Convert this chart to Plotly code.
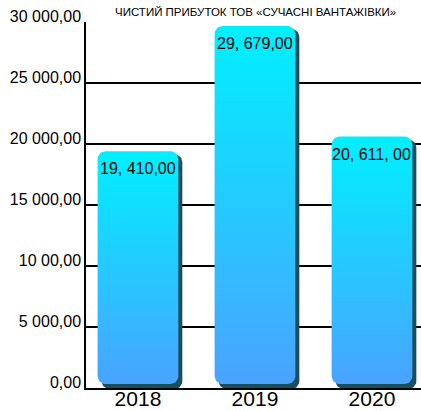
import numpy as np
import plotly.graph_objects as go

# Net profit by year
years = ["2018", "2019", "2020"]
profit = [19410, 29679, 20611]
value_labels = ["19, 410,00", "29, 679,00", "20, 611, 00"]

y_ticks = [0, 5000, 10000, 15000, 20000, 25000, 30000]
y_tick_labels = ["0,00", "5 000,00", "10 00,00", "15 000,00",
                 "20 000,00", "25 000,00", "30 000,00"]

title_text = "ЧИСТИЙ ПРИБУТОК ТОВ «СУЧАСНІ ВАНТАЖІВКИ»"

# Canvas and axis geometry
W, H = 421, 411
M = dict(l=86, r=0, t=22, b=23)
X_RANGE = [-0.444, 2.419]
Y_RANGE = [0, 30000]
UX = (X_RANGE[1] - X_RANGE[0]) / (W - M["l"] - M["r"])   # x units per pixel
UY = (Y_RANGE[1] - Y_RANGE[0]) / (H - M["t"] - M["b"])   # y units per pixel

BAR_W = 0.69
RADIUS = 8          # corner radius, px
FONT = "Liberation Sans, Arial, sans-serif"


def rounded_bar(xc, top, dx=0.0, dy=0.0, gap=2.0):
    """Closed outline of a rounded bar, optionally offset in pixels."""
    x0 = xc - BAR_W / 2 + dx * UX
    x1 = xc + BAR_W / 2 + dx * UX
    y0 = gap * UY - dy * UY
    y1 = top - dy * UY
    rx, ry = RADIUS * UX, RADIUS * UY
    xs, ys = [], []
    corners = [
        (x1 - rx, y1 - ry, 0, 90),      # top right
        (x0 + rx, y1 - ry, 90, 180),    # top left
        (x0 + rx, y0 + ry, 180, 270),   # bottom left
        (x1 - rx, y0 + ry, 270, 360),   # bottom right
    ]
    for cx, cy, a0, a1 in corners:
        t = np.radians(np.linspace(a0, a1, 10))
        xs.extend(cx + rx * np.cos(t))
        ys.extend(cy + ry * np.sin(t))
    xs.append(xs[0])
    ys.append(ys[0])
    return xs, ys


fig = go.Figure()

for i, (yr, val) in enumerate(zip(years, profit)):
    # dark drop shadow to the lower right
    sx, sy = rounded_bar(i, val, dx=4, dy=3, gap=2)
    fig.add_trace(go.Scatter(
        x=sx, y=sy, mode="lines", fill="toself",
        fillcolor="#184e5e", line=dict(width=0),
        hoverinfo="skip", showlegend=False,
    ))
    # main bar with vertical gradient
    bx, by = rounded_bar(i, val, gap=4)
    fig.add_trace(go.Scatter(
        x=bx, y=by, mode="lines", fill="toself",
        fillgradient=dict(type="vertical",
                          colorscale=[[0, "#4aa3ff"], [1, "#00f0ff"]]),
        line=dict(width=0), name=yr, showlegend=False,
        hovertemplate=yr + ": %{y}<extra></extra>",
    ))

# value labels just inside the top of each bar
for i, (val, lab) in enumerate(zip(profit, value_labels)):
    fig.add_annotation(
        x=i, y=val, text=lab, showarrow=False,
        yanchor="top", yshift=-7,
        font=dict(family=FONT, size=16, color="black"),
    )

fig.add_annotation(
    text=title_text, xref="paper", yref="paper",
    x=0.507, y=1, yanchor="bottom", yshift=2, showarrow=False,
    font=dict(family=FONT, size=11.5, color="black"),
)

fig.update_layout(
    width=W, height=H, margin=M,
    paper_bgcolor="white", plot_bgcolor="white",
    showlegend=False,
)
fig.update_xaxes(
    range=X_RANGE, tickmode="array",
    tickvals=list(range(len(years))), ticktext=years,
    showgrid=False, zeroline=False, automargin=False,
    showline=True, linecolor="black", linewidth=2,
    ticks="", ticklabelstandoff=-9,
    tickfont=dict(family=FONT, size=21, color="black"),
)
fig.update_yaxes(
    range=Y_RANGE, tickmode="array",
    tickvals=y_ticks, ticktext=y_tick_labels,
    showgrid=True, gridcolor="black", gridwidth=1.5,
    zeroline=False, showline=True, linecolor="black", linewidth=1.5,
    automargin=False,
    ticks="", ticklabelshift=-6, ticklabelstandoff=0,
    tickfont=dict(family=FONT, size=16, color="black"),
)

fig.write_html("out.html")
